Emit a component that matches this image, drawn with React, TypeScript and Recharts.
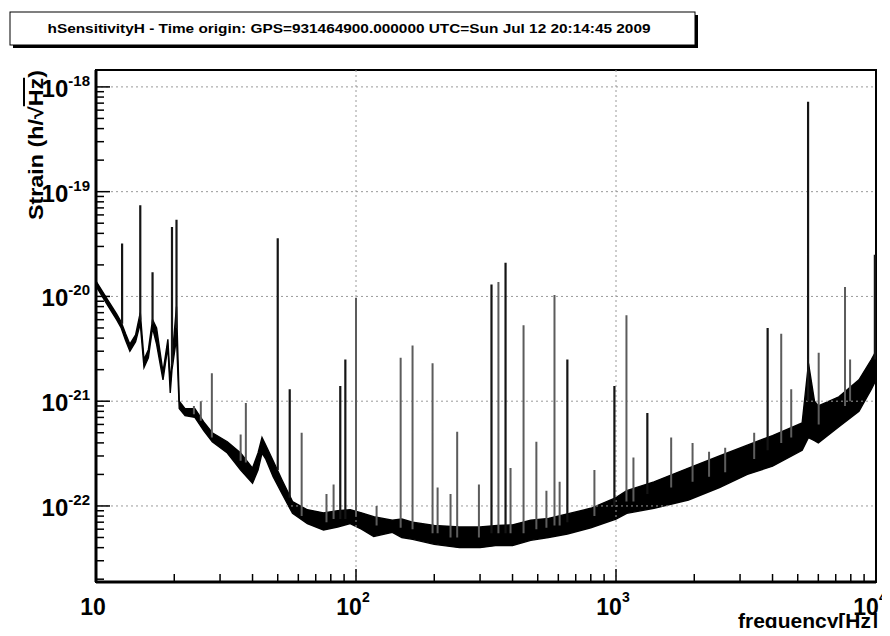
import { ComposedChart, Area, Line, XAxis, YAxis, ReferenceLine, ReferenceArea } from 'recharts';

const W = 890;
const H = 636;
const X_MIN = 10;
const X_MAX = 10000;
const Y_MIN = 1.88e-23;
const Y_MAX = 1.45e-18;
const FONT = '"Liberation Sans", Arial, Helvetica, sans-serif';

// axis decades and their label exponents
const xDecades = [10, 100, 1000, 10000];
const xExponents = ['', '2', '3', '4'];
const yDecades = [1e-23, 1e-22, 1e-21, 1e-20, 1e-19, 1e-18];
const yExponents = ['-23', '-22', '-21', '-20', '-19', '-18'];
const minorSteps = [1, 2, 3, 4, 5, 6, 7, 8, 9];

// noise floor band (frequency in Hz, lower and upper edge of the strain band)
const bandFreq = [
  10, 11, 12, 12.5, 13, 13.5, 14.2, 14.8, 15.3, 15.9, 16.5, 17.1, 18.1, 18.9, 19.3, 19.6, 20.4, 20.9,
  22, 24, 26, 28, 32, 36, 40, 42, 43.5, 45, 48, 52, 57, 65, 75, 85, 95, 105, 117, 138, 150, 165,
  200, 250, 300, 350, 400, 470, 550, 650, 800, 1000, 1100, 1400, 1900, 2500, 3200, 4000, 5200,
  5500, 5800, 6000, 7200, 8600, 9600, 10000,
];
const bandLow = [
  1.25e-20, 8.5e-21, 6.0e-21, 5.0e-21, 3.8e-21, 3.0e-21, 3.7e-21, 5.5e-21, 2.1e-21, 2.6e-21, 5.0e-21, 3.5e-21, 1.6e-21, 3.3e-21, 1.2e-21, 2.0e-21, 4.0e-21, 8.5e-22,
  7.3e-22, 7.0e-22, 5.2e-22, 4.1e-22, 3.2e-22, 2.2e-22, 1.65e-22, 2.2e-22, 3.2e-22, 2.8e-22, 1.9e-22, 1.3e-22, 8.5e-23, 6.8e-23, 5.9e-23, 6.3e-23, 6.8e-23, 6.0e-23, 5.1e-23, 5.6e-23, 5.0e-23, 4.8e-23,
  4.3e-23, 4.0e-23, 4.0e-23, 4.2e-23, 4.2e-23, 4.7e-23, 5.0e-23, 5.4e-23, 6.2e-23, 7.5e-23, 8.5e-23, 9.5e-23, 1.14e-22, 1.5e-22, 2.0e-22, 2.4e-22, 3.4e-22,
  4.5e-22, 4.2e-22, 4.0e-22, 5.7e-22, 8.0e-22, 1.3e-21, 1.6e-21,
];
const bandHigh = [
  1.4e-20, 9.6e-21, 6.8e-21, 5.7e-21, 4.4e-21, 3.5e-21, 4.3e-21, 7.0e-21, 2.5e-21, 3.1e-21, 6.0e-21, 5.0e-21, 1.9e-21, 3.9e-21, 1.5e-21, 2.5e-21, 8.0e-21, 1.0e-21,
  8.5e-22, 8.5e-22, 6.3e-22, 5.0e-22, 4.1e-22, 3.2e-22, 2.3e-22, 3.2e-22, 4.5e-22, 3.8e-22, 2.7e-22, 1.76e-22, 1.1e-22, 9.2e-23, 8.6e-23, 9.0e-23, 9.2e-23, 8.6e-23, 7.9e-23, 7.3e-23, 7.5e-23, 7.0e-23,
  6.5e-23, 6.3e-23, 6.3e-23, 6.5e-23, 6.6e-23, 7.3e-23, 7.6e-23, 8.4e-23, 9.5e-23, 1.2e-22, 1.4e-22, 1.7e-22, 2.3e-22, 3.0e-22, 3.8e-22, 4.7e-22, 6.2e-22,
  2.3e-21, 1.0e-21, 9.0e-22, 1.1e-21, 1.6e-21, 2.5e-21, 3.0e-21,
];

// strong lines (dark)
const darkPeakFreq = [12.6, 14.8, 16.5, 19.6, 20.4, 50, 55.6, 87, 91, 332, 376, 650, 986, 1320, 3830, 5480, 9900];
const darkPeakTop = [3.2e-20, 7.4e-20, 1.7e-20, 4.6e-20, 5.4e-20, 3.6e-20, 1.3e-21, 1.4e-21, 2.5e-21, 1.3e-20, 2.1e-20, 2.5e-21, 1.4e-21, 7.7e-22, 5e-21, 7.2e-19, 2.5e-20];
const darkPeakBase = [5.5e-21, 6e-21, 5.5e-21, 2.2e-21, 5e-21, 2.2e-22, 1.2e-22, 7.5e-23, 7.5e-23, 5.5e-23, 5.5e-23, 7e-23, 1e-22, 1.3e-22, 3.4e-22, 1e-21, 2.5e-21];

// thinner lines (grey)
const greyPeakFreq = [
  23.8, 25.3, 27.9, 36, 37.7, 61.8, 77, 82, 100, 120, 148.5, 165, 197, 206, 231, 245, 297, 353, 393, 441,
  494, 540, 580, 607, 826, 1097, 1167, 1630, 1970, 2280, 2630, 3400, 4320, 4720, 6020, 7600, 7950,
];
const greyPeakTop = [
  9e-22, 1.0e-21, 1.85e-21, 4.8e-22, 9.6e-22, 5e-22, 1.3e-22, 1.6e-22, 9.7e-21, 1e-22, 2.6e-21, 3.4e-21, 2.3e-21, 1.5e-22, 1.3e-22, 5.1e-22, 1.6e-22, 1.37e-20, 2.3e-22, 5.3e-21,
  4.1e-22, 1.4e-22, 1.03e-20, 1.7e-22, 2.2e-22, 6.6e-21, 2.9e-22, 4.5e-22, 4e-22, 3.3e-22, 3.6e-22, 5e-22, 4.4e-21, 1.3e-21, 2.9e-21, 1.23e-20, 2.5e-21,
];
const greyPeakBase = [
  7.5e-22, 6.5e-22, 4.5e-22, 2.7e-22, 2.6e-22, 8e-23, 7e-23, 7.5e-23, 8e-23, 6.5e-23, 6.2e-23, 6e-23, 5.5e-23, 5.5e-23, 5e-23, 5e-23, 5e-23, 5.5e-23, 5.5e-23, 5.5e-23,
  6e-23, 6.2e-23, 6.5e-23, 6.5e-23, 8e-23, 1.1e-22, 1.1e-22, 1.5e-22, 1.7e-22, 1.9e-22, 2.1e-22, 2.8e-22, 4e-22, 4.5e-22, 6e-22, 9e-22, 1e-21,
];

const bandData = bandFreq.map((f, i) => ({ f, range: [bandLow[i], bandHigh[i]] }));

const toSpikes = (freq: number[], top: number[], base: number[]) =>
  freq.flatMap((f, i) => [
    { f, v: base[i] },
    { f, v: top[i] },
    { f, v: null },
  ]);

const darkPeakData = toSpikes(darkPeakFreq, darkPeakTop, darkPeakBase);
const greyPeakData = toSpikes(greyPeakFreq, greyPeakTop, greyPeakBase);

const xTicks = xDecades.slice(0, 3).flatMap((d) => minorSteps.map((m) => d * m)).concat([X_MAX]);
const yTicks = yDecades
  .flatMap((d) => minorSteps.map((m) => d * m))
  .filter((v) => v >= Y_MIN && v <= Y_MAX * 1.0001);

const isDecade = (v: number) => Math.abs(Math.log10(v) - Math.round(Math.log10(v))) < 1e-6;

const XTick = (props: any) => {
  const { x, y, payload } = props;
  const v = payload.value;
  if (!isDecade(v)) {
    return <line x1={x} x2={x} y1={y} y2={y - 8} stroke="#000" strokeWidth={1.5} />;
  }
  const i = xDecades.findIndex((d) => Math.abs(d - v) / d < 1e-6);
  const exp = xExponents[i];
  const shift = i === xDecades.length - 1 ? -6 : -3;
  return (
    <g>
      <line x1={x} x2={x} y1={y} y2={y - 13} stroke="#000" strokeWidth={1.5} />
      <text x={x + shift} y={y + 33} textAnchor="middle" fontFamily={FONT} fontWeight="bold" fontSize={23} fill="#000">
        10
        {exp ? (
          <tspan dy={-13} fontSize={14}>
            {exp}
          </tspan>
        ) : null}
      </text>
    </g>
  );
};

const YTick = (props: any) => {
  const { x, y, payload } = props;
  const v = payload.value;
  if (!isDecade(v)) {
    return <line x1={x} x2={x + 8} y1={y} y2={y} stroke="#000" strokeWidth={1.5} />;
  }
  const i = yDecades.findIndex((d) => Math.abs(d - v) / d < 1e-6);
  return (
    <g>
      <line x1={x} x2={x + 14} y1={y} y2={y} stroke="#000" strokeWidth={1.5} />
      <text x={x - 6} y={y + 10} textAnchor="end" fontFamily={FONT} fontWeight="bold" fontSize={24} fill="#000">
        10
        <tspan dy={-11} fontSize={15}>
          {yExponents[i]}
        </tspan>
      </text>
    </g>
  );
};

const gridX = [100, 1000];
const gridY = [1e-22, 1e-21, 1e-20, 1e-19, 1e-18];

export default function App() {
  return (
    <div style={{ position: 'relative', width: W, height: H, margin: -8, background: '#fff' }}>
      <ComposedChart width={W} height={H} margin={{ top: 70, right: 14, bottom: 24, left: 36 }}>
        <XAxis
          dataKey="f"
          type="number"
          scale="log"
          domain={[X_MIN, X_MAX]}
          allowDataOverflow
          ticks={xTicks}
          interval={0}
          tickSize={0}
          tickMargin={0}
          tickLine={false}
          tick={<XTick />}
          height={30}
          axisLine={{ stroke: '#000', strokeWidth: 3 }}
        />
        <YAxis
          type="number"
          scale="log"
          domain={[Y_MIN, Y_MAX]}
          allowDataOverflow
          ticks={yTicks}
          interval={0}
          tickSize={0}
          tickMargin={0}
          tickLine={false}
          tick={<YTick />}
          width={60}
          axisLine={{ stroke: '#000', strokeWidth: 3 }}
        />
        {gridX.map((g) => (
          <ReferenceLine key={'gx' + g} x={g} stroke="#9a9a9a" strokeDasharray="2 3" />
        ))}
        {gridY.map((g) => (
          <ReferenceLine key={'gy' + g} y={g} stroke="#9a9a9a" strokeDasharray="2 3" />
        ))}
        <Area
          data={bandData}
          dataKey="range"
          type="linear"
          stroke="#000"
          strokeWidth={1.4}
          fill="#000"
          fillOpacity={1}
          isAnimationActive={false}
        />
        <Line
          data={greyPeakData}
          dataKey="v"
          stroke="#5c5c5c"
          strokeWidth={2}
          dot={false}
          connectNulls={false}
          isAnimationActive={false}
        />
        <Line
          data={darkPeakData}
          dataKey="v"
          stroke="#151515"
          strokeWidth={2.2}
          dot={false}
          connectNulls={false}
          isAnimationActive={false}
        />
        <ReferenceArea x1={X_MIN} x2={X_MAX} y1={Y_MIN} y2={Y_MAX} fill="none" stroke="#000" strokeWidth={2} />
      </ComposedChart>
      <svg width={W} height={H} style={{ position: 'absolute', left: 0, top: 0, pointerEvents: 'none' }}>
        <rect x={13} y={15} width={685} height={33} fill="#000" />
        <rect x={10} y={12} width={685} height={33} fill="#fff" stroke="#000" strokeWidth={1} />
        <text
          x={349}
          y={33}
          textAnchor="middle"
          fontFamily={FONT}
          fontWeight="bold"
          fontSize={12}
          textLength={603}
          lengthAdjust="spacingAndGlyphs"
          fill="#000"
        >
          hSensitivityH - Time origin: GPS=931464900.000000 UTC=Sun Jul 12 20:14:45 2009
        </text>
        <text
          transform="translate(43,70) rotate(-90)"
          textAnchor="end"
          fontFamily={FONT}
          fontWeight="bold"
          fontSize={20}
          textLength={150}
          lengthAdjust="spacingAndGlyphs"
          fill="#000"
        >
          Strain (h/√<tspan textDecoration="overline">Hz</tspan>)
        </text>
        <text x={878} y={628} textAnchor="end" fontFamily={FONT} fontWeight="bold" fontSize={21} fill="#000">
          frequency[Hz]
        </text>
      </svg>
    </div>
  );
}
